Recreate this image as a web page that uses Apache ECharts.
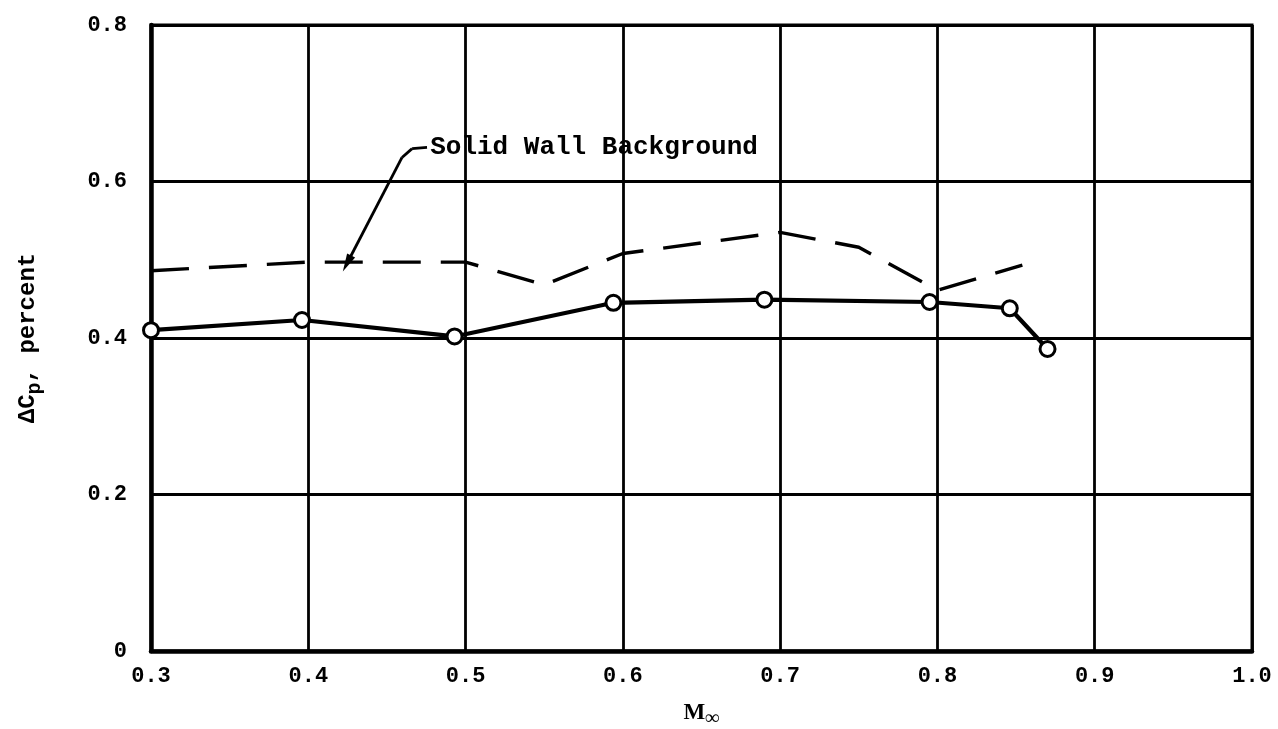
<!DOCTYPE html>
<html>
<head>
<meta charset="utf-8">
<script src="https://cdn.jsdelivr.net/npm/echarts@6/dist/echarts.min.js"></script>
<style>
  html, body { margin: 0; padding: 0; background: #fff; }
  #chart { width: 1278px; height: 729px; }
</style>
</head>
<body>
<div id="chart"></div>
<script>
// Mach number axis ticks and pressure-coefficient axis ticks
const machTicks = [0.3, 0.4, 0.5, 0.6, 0.7, 0.8, 0.9, 1.0];
const cpTicks = [0, 0.2, 0.4, 0.6, 0.8];

// Measured ΔCp (percent) with the slotted wall, circles joined by a solid line
const machMeasured = [0.300, 0.396, 0.493, 0.594, 0.690, 0.795, 0.846, 0.870];
const cpMeasured   = [0.410, 0.423, 0.402, 0.445, 0.449, 0.446, 0.438, 0.386];

// Solid wall background level, dashed curve
const machSolidWall = [0.300, 0.400, 0.500, 0.550, 0.600, 0.700, 0.750, 0.800, 0.854];
const cpSolidWall   = [0.486, 0.497, 0.497, 0.468, 0.508, 0.535, 0.516, 0.461, 0.493];

// Callout for the dashed curve: label anchor, leader bend points and arrow tip
const calloutText = 'Solid Wall Background';
const calloutLabel = [0.4775, 0.6435];
const calloutPath = [[0.4755, 0.6435], [0.4660, 0.6420], [0.4596, 0.6307], [0.4246, 0.4952]];

const monoFont = '"Liberation Mono", "DejaVu Sans Mono", monospace';
const serifFont = '"Liberation Serif", "DejaVu Serif", serif';

const zip = (xs, ys) => xs.map((x, i) => [x, ys[i]]);
const fmt = v => {
  const hit = [...machTicks, ...cpTicks].find(t => Math.abs(t - v) < 1e-9);
  const val = hit === undefined ? v : hit;
  return val === 0 ? '0' : val.toFixed(1);
};

const leaderSegments = [];
for (let i = 0; i < calloutPath.length - 1; i++) {
  const last = i === calloutPath.length - 2;
  leaderSegments.push([
    { coord: calloutPath[i], symbol: 'none' },
    { coord: calloutPath[i + 1], symbol: last ? 'triangle' : 'none', symbolSize: last ? [9, 18] : 0 }
  ]);
}

const chart = echarts.init(document.getElementById('chart'), null, { renderer: 'canvas' });
chart.setOption({
  backgroundColor: '#ffffff',
  animation: false,
  grid: {
    left: 151, right: 26, top: 25, bottom: 78,
    outerBoundsMode: 'none',
    containLabel: false,
    show: true, borderColor: '#000', borderWidth: 3
  },
  xAxis: {
    type: 'value',
    min: machTicks[0], max: machTicks[machTicks.length - 1], interval: 0.1,
    name: '{m|M}{s|∞}',
    nameLocation: 'middle', nameGap: 46,
    nameTextStyle: {
      rich: {
        m: { fontFamily: serifFont, fontWeight: 'bold', fontSize: 23, color: '#000' },
        s: { fontFamily: serifFont, fontWeight: 'bold', fontSize: 20, color: '#000', verticalAlign: 'bottom', padding: [12, 0, 0, 0] }
      }
    },
    axisLine: { show: true, onZero: false, lineStyle: { color: '#000', width: 4.5 } },
    axisTick: { show: false },
    splitLine: { show: true, lineStyle: { color: '#000', width: 2.8 } },
    axisLabel: {
      formatter: fmt, margin: 14,
      fontFamily: monoFont, fontWeight: 'bold', fontSize: 22, color: '#000'
    }
  },
  yAxis: {
    type: 'value',
    min: cpTicks[0], max: cpTicks[cpTicks.length - 1], interval: 0.2,
    name: '{a|ΔC}{s|p}{a|, percent}',
    nameLocation: 'middle', nameGap: 106,
    nameTextStyle: {
      rich: {
        a: { fontFamily: monoFont, fontWeight: 'bold', fontSize: 24, color: '#000' },
        s: { fontFamily: monoFont, fontWeight: 'bold', fontSize: 20, color: '#000', padding: [14, 0, 0, 0] }
      }
    },
    axisLine: { show: true, lineStyle: { color: '#000', width: 4.5 } },
    axisTick: { show: false },
    splitLine: { show: true, lineStyle: { color: '#000', width: 2.8 } },
    axisLabel: {
      formatter: fmt, margin: 24,
      fontFamily: monoFont, fontWeight: 'bold', fontSize: 22, color: '#000'
    }
  },
  series: [
    {
      name: 'Solid Wall Background',
      type: 'line',
      data: zip(machSolidWall, cpSolidWall),
      showSymbol: false,
      symbol: 'none',
      z: 3,
      lineStyle: { color: '#000', width: 3.4, type: [38, 20] },
      markLine: {
        silent: true,
        symbol: ['none', 'none'],
        label: { show: false },
        lineStyle: { color: '#000', width: 2.8, type: 'solid' },
        data: leaderSegments
      },
      markPoint: {
        silent: true,
        symbol: 'circle',
        symbolSize: 0,
        data: [{ coord: calloutLabel }],
        label: {
          show: true,
          position: 'right',
          distance: 0,
          formatter: calloutText,
          fontFamily: monoFont, fontWeight: 'bold', fontSize: 26, color: '#000'
        }
      }
    },
    {
      name: 'Slotted wall',
      type: 'line',
      data: zip(machMeasured, cpMeasured),
      symbol: 'circle',
      symbolSize: 15,
      z: 5,
      lineStyle: { color: '#000', width: 4.2 },
      itemStyle: { color: '#fff', borderColor: '#000', borderWidth: 3 }
    }
  ]
});
</script>
</body>
</html>
